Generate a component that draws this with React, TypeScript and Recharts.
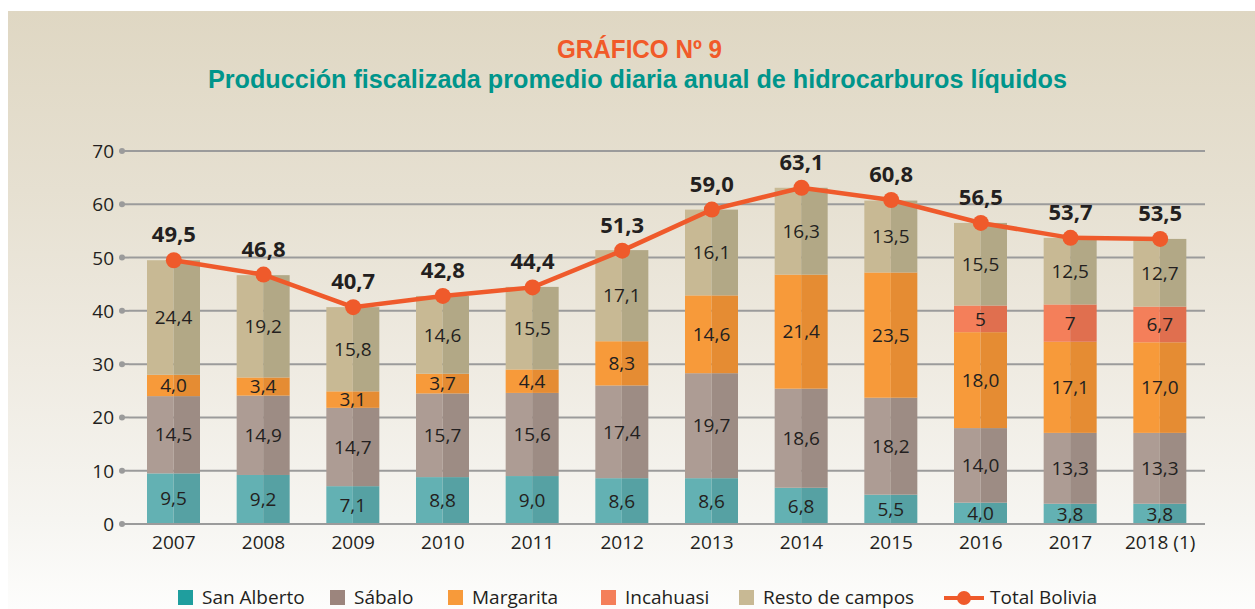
import React from 'react';
import { Bar, CartesianGrid, ComposedChart, LabelList, Line, XAxis, YAxis } from 'recharts';

const YEARS = ['2007', '2008', '2009', '2010', '2011', '2012', '2013', '2014', '2015', '2016', '2017', '2018 (1)'];
const SAN_ALBERTO = [9.5, 9.2, 7.1, 8.8, 9.0, 8.6, 8.6, 6.8, 5.5, 4.0, 3.8, 3.8];
const SABALO = [14.5, 14.9, 14.7, 15.7, 15.6, 17.4, 19.7, 18.6, 18.2, 14.0, 13.3, 13.3];
const MARGARITA = [4.0, 3.4, 3.1, 3.7, 4.4, 8.3, 14.6, 21.4, 23.5, 18.0, 17.1, 17.0];
const INCAHUASI = [0, 0, 0, 0, 0, 0, 0, 0, 0, 5, 7, 6.7];
// heights as drawn (2007 bar reaches the total, its label says 24,4)
const RESTO = [21.5, 19.2, 15.8, 14.6, 15.5, 17.1, 16.1, 16.3, 13.5, 15.5, 12.5, 12.7];
const RESTO_LABEL = [24.4, 19.2, 15.8, 14.6, 15.5, 17.1, 16.1, 16.3, 13.5, 15.5, 12.5, 12.7];
const TOTAL = [49.5, 46.8, 40.7, 42.8, 44.4, 51.3, 59.0, 63.1, 60.8, 56.5, 53.7, 53.5];
const Y_TICKS = [0, 10, 20, 30, 40, 50, 60, 70];

const data = YEARS.map((year, i) => ({
  year,
  sanAlberto: SAN_ALBERTO[i],
  sabalo: SABALO[i],
  margarita: MARGARITA[i],
  incahuasi: INCAHUASI[i],
  resto: RESTO[i],
  restoLabel: RESTO_LABEL[i],
  total: TOTAL[i],
}));

const FONT = "'Open Sans', 'Noto Sans', sans-serif";
const TEXT = '#231f20';
const LINE = '#ef5a2b';
const PLOT_LEFT = 129;

const comma1 = (v: any) => (v ? Number(v).toFixed(1).replace('.', ',') : '');
const commaRaw = (v: any) => (v ? String(v).replace('.', ',') : '');

const twoTone = (light: string, dark: string) => (props: any) => {
  const { x, y, width, height } = props;
  if (!height || height <= 0) return <g />;
  const half = width / 2;
  return (
    <g>
      <rect x={x} y={y} width={half} height={height} fill={light} />
      <rect x={x + half} y={y} width={width - half} height={height} fill={dark} />
    </g>
  );
};

const YTick = (props: any) => {
  const { y, payload } = props;
  return (
    <g>
      <circle cx={PLOT_LEFT - 7} cy={y} r={3} fill="#9b9b9b" />
      <line x1={PLOT_LEFT - 7} x2={PLOT_LEFT} y1={y} y2={y} stroke="#9b9b9b" strokeWidth={2} />
      <text x={PLOT_LEFT - 15} y={y} dy={7} textAnchor="end" fontSize={19} fontFamily={FONT} fill={TEXT}>
        {payload.value}
      </text>
    </g>
  );
};

const TotalLabel = (props: any) => {
  const { x, y, value } = props;
  return (
    <text x={x} y={y - 18} textAnchor="middle" fontSize={22} fontWeight={700} fontFamily={FONT} fill={TEXT}>
      {comma1(value)}
    </text>
  );
};

const LEGEND = [
  { name: 'San Alberto', color: '#1f9e9e', left: 178 },
  { name: 'Sábalo', color: '#9c857d', left: 330 },
  { name: 'Margarita', color: '#f79a3a', left: 448 },
  { name: 'Incahuasi', color: '#f47f5a', left: 601 },
  { name: 'Resto de campos', color: '#c8b994', left: 739 },
];

const legendRow: React.CSSProperties = {
  position: 'absolute',
  top: 587,
  height: 21,
  lineHeight: '21px',
  display: 'flex',
  alignItems: 'center',
  fontFamily: FONT,
  fontSize: 19,
  color: TEXT,
  whiteSpace: 'nowrap',
};

export default function App() {
  const segLabel = { position: 'center' as const, fill: TEXT, fontSize: 19, fontFamily: FONT };
  return (
    <div style={{ position: 'absolute', left: 0, top: 0, width: 1255, height: 609, background: '#fff', overflow: 'hidden' }}>
      <div
        style={{
          position: 'absolute',
          left: 8,
          top: 11,
          right: 0,
          bottom: 0,
          background: 'linear-gradient(#dfd7c3 0%, #e6e0d1 30%, #efebe2 60%, #f6f5f1 85%, #fdfdfc 100%)',
        }}
      />
      <svg width={1255} height={110} style={{ position: 'absolute', left: 0, top: 0 }}>
        <text
          x={557}
          y={58}
          textLength={165}
          lengthAdjust="spacingAndGlyphs"
          fontFamily="'Liberation Sans', Arial, sans-serif"
          fontWeight={700}
          fontSize={25}
          fill="#f15a29"
        >
          GRÁFICO Nº 9
        </text>
        <text
          x={208}
          y={88}
          textLength={859}
          lengthAdjust="spacingAndGlyphs"
          fontFamily="'Liberation Sans', Arial, sans-serif"
          fontWeight={700}
          fontSize={25}
          fill="#00958b"
        >
          Producción fiscalizada promedio diaria anual de hidrocarburos líquidos
        </text>
      </svg>
      <div style={{ position: 'absolute', left: 0, top: 0 }}>
        <ComposedChart width={1255} height={570} data={data} margin={{ top: 151, right: 50, bottom: 16, left: 69 }}>
          <CartesianGrid vertical={false} stroke="#9b9b9b" strokeWidth={2} />
          <XAxis
            dataKey="year"
            height={30}
            tickLine={false}
            tickMargin={6}
            axisLine={{ stroke: '#9b9b9b', strokeWidth: 2 }}
            tick={{ fill: TEXT, fontSize: 19, fontFamily: FONT }}
            interval={0}
          />
          <YAxis
            width={60}
            domain={[0, 70]}
            ticks={Y_TICKS}
            axisLine={false}
            tickLine={false}
            tick={<YTick />}
            interval={0}
          />
          <Bar dataKey="sanAlberto" stackId="a" barSize={53} isAnimationActive={false} shape={twoTone('#63b1b3', '#56a1a3')}>
            <LabelList dataKey="sanAlberto" {...segLabel} formatter={comma1} />
          </Bar>
          <Bar dataKey="sabalo" stackId="a" barSize={53} isAnimationActive={false} shape={twoTone('#ad9c94', '#9d8c84')}>
            <LabelList dataKey="sabalo" {...segLabel} formatter={comma1} />
          </Bar>
          <Bar dataKey="margarita" stackId="a" barSize={53} isAnimationActive={false} shape={twoTone('#f79a3a', '#e58c33')}>
            <LabelList dataKey="margarita" {...segLabel} formatter={comma1} />
          </Bar>
          <Bar dataKey="incahuasi" stackId="a" barSize={53} isAnimationActive={false} shape={twoTone('#f47f5a', '#e06f4f')}>
            <LabelList dataKey="incahuasi" {...segLabel} formatter={commaRaw} />
          </Bar>
          <Bar dataKey="resto" stackId="a" barSize={53} isAnimationActive={false} shape={twoTone('#c8b994', '#b2a886')}>
            <LabelList dataKey="restoLabel" {...segLabel} formatter={comma1} />
          </Bar>
          <Line
            dataKey="total"
            stroke={LINE}
            strokeWidth={4.5}
            dot={{ r: 8, fill: LINE, stroke: 'none' }}
            activeDot={false}
            isAnimationActive={false}
          >
            <LabelList dataKey="total" content={<TotalLabel />} />
          </Line>
        </ComposedChart>
      </div>
      {LEGEND.map((item) => (
        <div key={item.name} style={{ ...legendRow, left: item.left }}>
          <span style={{ display: 'inline-block', width: 15, height: 15, background: item.color, marginRight: 9 }} />
          <span>{item.name}</span>
        </div>
      ))}
      <div style={{ ...legendRow, left: 944 }}>
        <svg width={40} height={16} style={{ marginRight: 6 }}>
          <line x1={0} x2={40} y1={8} y2={8} stroke={LINE} strokeWidth={4} />
          <circle cx={20} cy={8} r={7} fill={LINE} />
        </svg>
        <span>Total Bolivia</span>
      </div>
    </div>
  );
}
